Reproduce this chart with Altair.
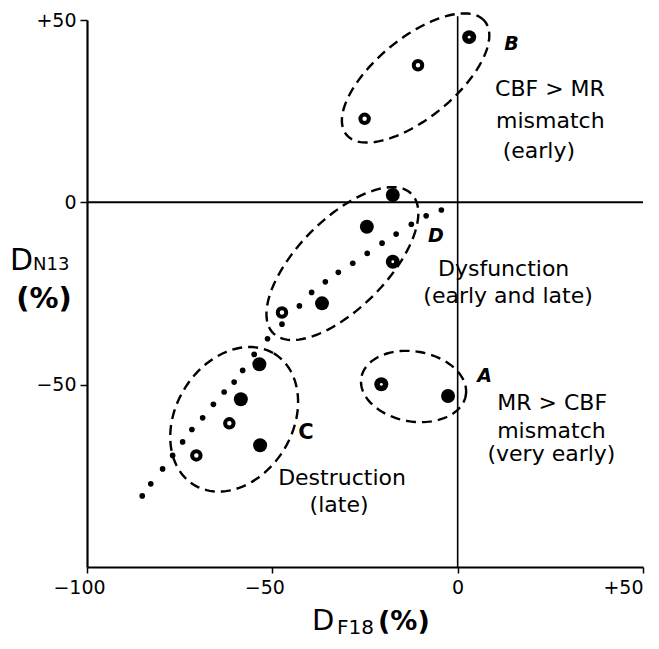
import altair as alt
import pandas as pd
import numpy as np

# ---- data ----
# large filled points
filled_x = [3.1, -17.5, -24.5, -17.5, -36.6, -53.5, -58.5, -53.3, -20.6, -2.6]
filled_y = [45.3, 2.0, -6.7, -16.3, -27.7, -44.4, -54.0, -66.6, -49.9, -53.1]
# filled points with a tiny white centre
dot_x = [3.1, -17.5, -20.6]
dot_y = [45.3, -16.3, -49.9]
# open rings
open_x = [-10.7, -25.1, -47.4, -61.6, -70.5]
open_y = [37.6, 22.9, -30.2, -60.6, -69.4]
# small dots forming the dotted line
line_x = [-4.4, -8.5, -12.5, -16.6, -20.4, -24.4, -28.3, -32.2, -35.7, -39.4, -42.7,
          -47.4, -51.3, -54.9, -58.0, -60.3, -63.0, -65.9, -68.8, -71.7, -74.2,
          -76.9, -79.6, -82.8, -85.1]
line_y = [-2.1, -3.7, -6.0, -8.7, -11.2, -14.0, -16.7, -19.2, -21.8, -24.7, -28.4,
          -33.4, -37.4, -41.7, -46.1, -49.3, -52.0, -55.4, -59.1, -62.3, -65.7,
          -69.4, -73.1, -77.2, -80.5]
# dashed ellipses: group, centre, semi-axes, rotation (deg)
ell_name = ["A", "B", "C", "D"]
ell_cx = [-11.9, -11.35, -60.3, -31.1]
ell_cy = [-50.5, 34.1, -59.5, -16.8]
ell_a = [14.3, 24.3, 21.0, 26.7]
ell_b = [9.6, 10.9, 15.8, 12.1]
ell_rot = [-10, 40, 60, 46]
# annotations
desc_text = ["CBF > MR", "mismatch", "(early)", "Dysfunction", "(early and late)",
             "MR > CBF", "mismatch", "(very early)", "Destruction", "(late)"]
desc_x = [24.9, 25.0, 21.9, 12.4, 13.6, 25.5, 25.3, 25.3, -31.2, -32.0]
desc_y = [31.1, 22.4, 14.2, -18.3, -25.6, -54.9, -62.7, -69.1, -75.5, -82.9]
let_text = ["B", "D", "A"]
let_x = [14.5, -5.9, 7.3]
let_y = [43.5, -9.2, -47.6]
c_text = ["C"]
c_x = [-40.9]
c_y = [-63.2]
x_ticks = [-100, -50, 0, 50]
y_ticks = [-50, 0, 50]

FONT = "DejaVu Sans"

# ---- build tables ----
filled_df = pd.DataFrame({"x": filled_x, "y": filled_y})
dot_df = pd.DataFrame({"x": dot_x, "y": dot_y})
open_df = pd.DataFrame({"x": open_x, "y": open_y})
line_df = pd.DataFrame({"x": line_x, "y": line_y})

rows = []
t = np.linspace(0, 2 * np.pi, 121)
for n, cx, cy, a, b, r in zip(ell_name, ell_cx, ell_cy, ell_a, ell_b, ell_rot):
    th = np.deg2rad(r)
    ex = cx + a * np.cos(t) * np.cos(th) - b * np.sin(t) * np.sin(th)
    ey = cy + a * np.cos(t) * np.sin(th) + b * np.sin(t) * np.cos(th)
    for i, (xx, yy) in enumerate(zip(ex, ey)):
        rows.append({"g": n, "i": i, "x": xx, "y": yy})
ell_df = pd.DataFrame(rows)

hrule_df = pd.DataFrame({"x": [-100], "x2": [50], "y": [0]})
vrule_df = pd.DataFrame({"x": [0], "y": [-100], "y2": [51]})

desc_df = pd.DataFrame({"t": desc_text, "x": desc_x, "y": desc_y})
let_df = pd.DataFrame({"t": let_text, "x": let_x, "y": let_y})
c_df = pd.DataFrame({"t": c_text, "x": c_x, "y": c_y})

xscale = alt.Scale(domain=[-100, 50], nice=False, zero=False)
yscale = alt.Scale(domain=[-100, 50], nice=False, zero=False)

LBL = "datum.value > 0 ? '+' + datum.value : (datum.value < 0 ? '\u2212' + abs(datum.value) : '0')"

xaxis = alt.Axis(
    values=x_ticks, grid=False, title=None, labelExpr=LBL,
    labelFont=FONT, labelFontSize=19, labelColor="black", labelPadding=5,
    labelFlush=False, labelOverlap=False,
    labelAlign={"condition": {"test": "datum.value == 50", "value": "right"}, "value": "center"},
    labelOffset={"condition": {"test": "datum.value < 0", "value": -8}, "value": 0},
    domainColor="black", domainWidth=2.2, tickColor="black", tickWidth=1.5, tickSize=6,
)
yaxis = alt.Axis(
    values=y_ticks, grid=False, title=None, labelExpr=LBL,
    labelFont=FONT, labelFontSize=19, labelColor="black", labelPadding=4,
    labelOverlap=False, labelFlush=False,
    domainColor="black", domainWidth=2.2, tickColor="black", tickWidth=1.5, tickSize=7,
)

X = alt.X("x:Q", scale=xscale, axis=xaxis)
Y = alt.Y("y:Q", scale=yscale, axis=yaxis)

hrule = alt.Chart(hrule_df).mark_rule(color="black", strokeWidth=2).encode(x=X, x2="x2:Q", y=Y)
vrule = alt.Chart(vrule_df).mark_rule(color="black", strokeWidth=1.6).encode(x=X, y=Y, y2="y2:Q")

ells = alt.Chart(ell_df).mark_line(color="black", strokeWidth=2.4, strokeDash=[10, 6]).encode(
    x=X, y=Y, detail="g:N", order="i:Q")

dots = alt.Chart(line_df).mark_circle(color="black", opacity=1, size=32).encode(x=X, y=Y)
filled = alt.Chart(filled_df).mark_circle(color="black", opacity=1, size=195).encode(x=X, y=Y)
opens = alt.Chart(open_df).mark_point(color="black", filled=False, strokeWidth=4, size=72, opacity=1).encode(x=X, y=Y)
whites = alt.Chart(dot_df).mark_circle(color="white", opacity=1, size=8).encode(x=X, y=Y)

desc = alt.Chart(desc_df).mark_text(font=FONT, fontSize=22, color="black", align="center", baseline="middle").encode(
    x=X, y=Y, text="t:N")
lets = alt.Chart(let_df).mark_text(font=FONT, fontSize=19, fontWeight="bold", fontStyle="italic", color="black",
                                    align="center", baseline="middle").encode(x=X, y=Y, text="t:N")
cl = alt.Chart(c_df).mark_text(font=FONT, fontSize=21, fontWeight="bold", color="black",
                                align="center", baseline="middle").encode(x=X, y=Y, text="t:N")

# axis titles with subscripts (pixel positions relative to the plot area)
def ttl(txt, px, py, size, align="left", weight="normal"):
    return alt.Chart(pd.DataFrame({"t": [txt]})).mark_text(
        font=FONT, fontSize=size, fontWeight=weight, color="black", align=align, baseline="alphabetic"
    ).encode(x=alt.value(px), y=alt.value(py), text="t:N")

titles = [
    ttl("D", -77, 250, 30),
    ttl("N13", -54, 250, 18),
    ttl("(%)", -43, 288, 29, align="center", weight="bold"),
    ttl("D", 225, 610, 29),
    ttl("F18", 250, 614, 20),
    ttl("(%)", 291, 610, 27, weight="bold"),
]

chart = alt.layer(hrule, vrule, ells, dots, filled, opens, whites, desc, lets, cl, *titles).properties(
    width=556, height=547,
    autosize=alt.AutoSizeParams(type="none"),
    padding={"left": 79, "top": 12, "right": 8, "bottom": 73},
    background="white",
).configure_view(stroke=None)

chart.save("out.html", embed_options={"renderer": "svg", "actions": False})
